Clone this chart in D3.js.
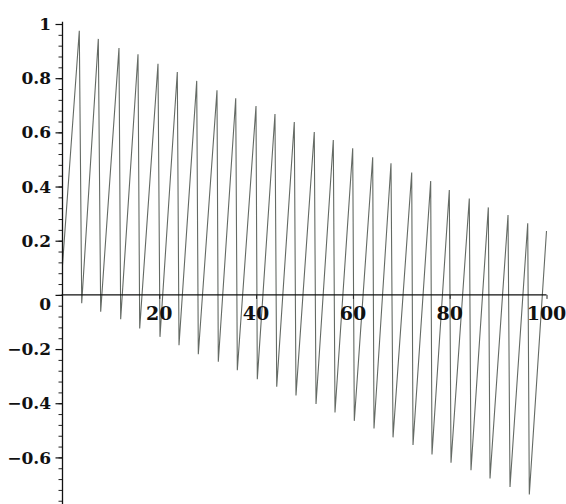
<!DOCTYPE html>
<html>
<head>
<meta charset="utf-8">
<script src="https://cdn.jsdelivr.net/npm/d3@7"></script>
<style>
    body { margin: 0; background: #fff; }
    svg { display: block; }
    .tick-label { font-family: "DejaVu Serif", serif; font-weight: bold; fill: #111; }
</style>
</head>
<body>
<svg id="chart"></svg>
<script>
// curve start / end points
const startPoint = [0, 0.11];
const endPoint = [100, 0.236];

// peaks of the sawtooth (x, y)
const peakX = [3.47, 7.40, 11.67, 15.60, 19.73, 23.72, 27.73, 31.92, 35.79, 39.98, 43.90, 47.89,
    52.02, 55.95, 59.96, 64.09, 67.87, 72.15, 76.07, 79.92, 84.05, 87.98, 92.05, 96.12];
const peakY = [0.975, 0.945, 0.911, 0.888, 0.853, 0.823, 0.790, 0.755, 0.726, 0.697, 0.668, 0.638,
    0.601, 0.572, 0.541, 0.508, 0.486, 0.452, 0.420, 0.387, 0.356, 0.323, 0.295, 0.264];

// troughs of the sawtooth (x, y)
const troughX = [3.97, 7.89, 12.02, 15.95, 20.14, 24.07, 28.06, 32.19, 36.12, 40.25, 44.26, 48.24,
    52.38, 56.30, 60.29, 64.36, 68.29, 72.42, 76.34, 80.27, 84.40, 88.33, 92.46, 96.45];
const troughY = [-0.031, -0.062, -0.090, -0.124, -0.155, -0.186, -0.219, -0.247, -0.278, -0.311, -0.339, -0.371,
    -0.403, -0.434, -0.465, -0.493, -0.526, -0.554, -0.589, -0.620, -0.647, -0.678, -0.709, -0.737];

// axis ticks
const xTicks = [20, 40, 60, 80, 100];
const xTickLabels = ["20", "40", "60", "80", "100"];
const yTicks = [1, 0.8, 0.6, 0.4, 0.2, 0, -0.2, -0.4, -0.6];
const yTickLabels = ["1", "0.8", "0.6", "0.4", "0.2", "0", "\u22120.2", "\u22120.4", "\u22120.6"];

const width = 566;
const height = 504;

const svg = d3.select("#chart")
    .attr("width", width)
    .attr("height", height);

const xScale = d3.scaleLinear().domain([0, 100]).range([62.5, 546.5]);
const yScale = d3.scaleLinear().domain([-0.772, 1]).range([504, 24]);

// build the polyline: start, peak, trough, peak, trough ..., end
const points = [startPoint];
peakX.forEach((px, i) => {
    points.push([px, peakY[i]]);
    points.push([troughX[i], troughY[i]]);
});
points.push(endPoint);

const line = d3.line()
    .x(d => xScale(d[0]))
    .y(d => yScale(d[1]));

svg.append("path")
    .datum(points)
    .attr("fill", "none")
    .attr("stroke", "#646a64")
    .attr("stroke-width", 1.1)
    .attr("d", line);

// y axis: minor ticks every 0.04, major ticks every 0.2
const minorTicks = d3.range(-19, 26).map(i => +(i * 0.04).toFixed(2));

svg.append("g")
    .attr("transform", `translate(${xScale(0)},0)`)
    .call(d3.axisLeft(yScale).tickValues(minorTicks).tickSize(4).tickFormat(""))
    .call(g => g.select(".domain").remove())
    .selectAll("line").attr("stroke", "#222");

svg.append("g")
    .attr("transform", `translate(${xScale(0)},0)`)
    .call(d3.axisLeft(yScale).tickValues(yTicks).tickSize(7).tickFormat(""))
    .call(g => g.select(".domain").remove())
    .selectAll("line").attr("stroke", "#111").attr("stroke-width", 1.2);

svg.append("line")
    .attr("x1", xScale(0)).attr("x2", xScale(0))
    .attr("y1", yScale(1.008)).attr("y2", yScale(-0.772))
    .attr("stroke", "#111")
    .attr("stroke-width", 1.3);

// x axis
svg.append("line")
    .attr("x1", xScale(-0.2)).attr("x2", xScale(100))
    .attr("y1", yScale(0)).attr("y2", yScale(0))
    .attr("stroke", "#111")
    .attr("stroke-width", 1.4);

svg.append("g")
    .attr("transform", `translate(0,${yScale(0)})`)
    .call(d3.axisBottom(xScale).tickValues(xTicks).tickSize(4).tickFormat(""))
    .call(g => g.select(".domain").remove())
    .selectAll("line").attr("stroke", "#222");

// tick labels
svg.selectAll(".y-label")
    .data(yTicks)
    .enter()
    .append("text")
    .attr("class", "tick-label y-label")
    .attr("x", 51)
    .attr("y", d => yScale(d) + (d === 0 ? 9 : 0))
    .attr("dy", "0.36em")
    .style("font-size", "17px")
    .style("text-anchor", "end")
    .text((d, i) => yTickLabels[i]);

svg.selectAll(".x-label")
    .data(xTicks)
    .enter()
    .append("text")
    .attr("class", "tick-label x-label")
    .attr("x", d => xScale(d))
    .attr("y", yScale(0) + 25)
    .style("font-size", "19px")
    .style("text-anchor", "middle")
    .text((d, i) => xTickLabels[i]);
</script>
</body>
</html>
